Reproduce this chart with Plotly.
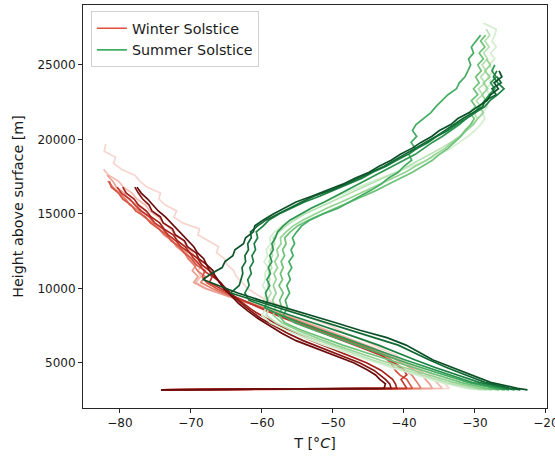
import plotly.graph_objects as go

# ---------------- data ----------------
WINTER_H = [3200, 3300, 3600, 3900, 4200, 4500, 5000, 5500, 6000, 6500, 7000, 7500,
            8000, 8500, 9000, 9500, 10000, 10400, 10800, 11200, 11600, 12000, 12400,
            12800, 13200, 13600, 14000, 14400, 14800, 15200, 15600, 16000, 16400,
            16800, 17200, 17600, 18000, 18400, 18800, 19200, 19700]

W1 = [-74.2, -33.6, -34.2, -35.0, -36.1, -37.2, -39.6, -41.0, -43.4, -45.6, -48.2, -50.3,
      -53.1, -55.6, -58.2, -60.4, -62.0, -62.8, -63.6, -64.0, -64.9, -65.3, -66.4,
      -66.1, -67.6, -69.0, -68.8, -71.2, -72.4, -72.0, -73.6, -74.5, -74.3,
      -76.2, -77.2, -77.9, -79.8, -80.9, -80.6, -82.2, -82.0]
W2 = [-74.2, -34.6, -35.2, -35.8, -36.8, -37.8, -39.8, -41.8, -44.2, -46.8, -49.6, -52.4,
      -55.2, -58.2, -61.4, -64.8, -67.8, -69.3, -68.6, -69.0, -68.4, -69.2, -69.8,
      -70.6, -71.0, -72.3, -72.8, -73.9, -74.6, -75.8, -76.4, -77.6, -78.3,
      -79.5, -80.2, -81.6, -82.3]
W3 = [-74.2, -36.0, -36.4, -37.0, -37.5, -38.4, -40.2, -42.2, -44.6, -47.2, -50.0, -52.8,
      -55.6, -58.6, -61.8, -64.9, -68.0, -69.6, -69.0, -69.8, -69.2, -70.1, -70.6,
      -71.6, -72.2, -73.4, -74.0, -75.2, -75.9, -77.0, -77.6, -78.8, -79.4,
      -80.5, -81.0, -81.8]
W4 = [-74.2, -37.6, -38.0, -38.4, -38.9, -39.8, -41.2, -42.6, -45.0, -47.6, -50.4, -53.2,
      -56.0, -58.8, -61.8, -64.6, -67.0, -68.6, -68.0, -69.1, -69.6, -70.4, -70.9,
      -72.0, -72.6, -73.8, -74.5, -75.4, -76.6, -77.3, -78.6, -79.2, -80.1,
      -81.0, -81.7]
W5 = [-74.2, -38.8, -39.2, -39.6, -40.6, -41.2, -41.8, -43.0, -45.4, -48.1, -50.9, -53.7,
      -56.4, -59.0, -61.6, -64.2, -66.4, -67.8, -68.4, -68.0, -69.3, -69.9, -71.0,
      -71.6, -72.8, -73.4, -74.6, -75.7, -76.4, -77.8, -78.4, -79.6, -80.2,
      -81.2, -81.5]
W6 = [-74.2, -39.6, -40.0, -40.4, -39.6, -40.0, -41.4, -43.2, -45.8, -48.6, -51.4, -54.2,
      -56.9, -59.4, -61.8, -64.0, -65.8, -67.4, -67.0, -68.2, -68.8, -69.6, -70.2,
      -71.4, -72.1, -73.2, -73.9, -75.1, -75.8, -77.0, -77.9, -78.6, -79.8,
      -80.4]
W7 = [-74.2, -41.0, -41.2, -41.6, -42.4, -43.2, -45.2, -47.8, -50.4, -53.0, -55.3, -57.5,
      -59.4, -61.2, -62.6, -64.0, -65.1, -65.8, -66.9, -67.4, -68.5, -69.0, -70.2,
      -70.8, -71.9, -72.5, -73.8, -74.4, -75.6, -76.3, -77.4, -78.0, -79.1,
      -79.6]
W8 = [-74.2, -41.8, -42.0, -42.6, -43.4, -44.2, -46.2, -48.8, -51.6, -54.2, -56.4, -58.4,
      -60.2, -61.6, -62.9, -64.0, -65.2, -66.0, -66.5, -67.4, -67.8, -68.9, -69.3,
      -70.5, -70.9, -72.2, -72.6, -73.9, -74.3, -75.5, -75.9, -76.8, -77.4,
      -77.9]
W9 = [-74.2, -42.8, -42.6, -43.4, -44.0, -45.0, -47.0, -49.8, -52.6, -55.2, -57.2, -59.0,
      -60.6, -62.0, -63.3, -64.3, -65.4, -65.9, -66.6, -66.9, -67.8, -68.2, -69.1,
      -69.6, -70.4, -71.2, -72.0, -72.9, -73.6, -74.6, -75.3, -76.1, -77.0,
      -77.6]

SUMMER_H = [3200, 3300, 3700, 4200, 4700, 5200, 5700, 6200, 6700, 7200, 7700, 8200,
            8700, 9200, 9700, 10200, 10600, 11000, 11400, 11800, 12200, 12600, 13000,
            13400, 13800, 14200, 14600, 15000, 15400, 15800, 16200, 16600, 17000,
            17400, 17800, 18200, 18600, 19000, 19400, 19800, 20200, 20600, 21000,
            21400, 21800, 22200, 22600, 23000, 23400, 23800, 24200, 24600, 25000,
            25400, 25800, 26200, 26600, 27000, 27400, 27800]

S1 = [-29.0, -31.2, -34.8, -38.4, -41.8, -45.0, -48.2, -51.2, -54.0, -56.6, -58.8, -60.0,
      -59.4, -59.8, -59.3, -59.9, -59.5, -59.6, -59.1, -59.7, -59.2, -59.4, -58.8,
      -58.9, -58.2, -57.2, -56.0, -54.6, -53.0, -51.2, -49.4, -47.4, -45.4,
      -43.2, -41.0, -38.8, -36.8, -35.0, -33.4, -32.2, -31.0, -30.0, -29.2,
      -28.6, -29.0, -28.2, -28.8, -27.9, -28.5, -27.6, -28.2, -27.4, -28.0,
      -27.2, -27.8, -27.0, -27.6, -27.2, -27.0, -28.8]
S2 = [-28.4, -30.4, -34.0, -37.6, -41.0, -44.4, -47.4, -50.4, -53.2, -55.8, -58.0, -59.4,
      -59.0, -59.3, -58.7, -59.2, -58.9, -59.1, -58.6, -59.0, -58.5, -58.8, -58.2,
      -58.4, -57.6, -56.6, -55.4, -54.0, -52.2, -50.4, -48.6, -46.6, -44.8,
      -43.0, -41.0, -39.4, -37.8, -36.2, -34.8, -33.4, -32.2, -31.2, -30.4,
      -29.6, -30.2, -29.2, -29.8, -28.9, -29.5, -28.6, -29.2, -28.4, -29.0,
      -28.2, -28.8, -28.0, -28.6, -27.9, -28.4]
S3 = [-27.6, -29.4, -33.0, -36.6, -40.0, -43.4, -46.6, -49.6, -52.4, -55.0, -57.2, -58.4,
      -58.1, -58.5, -58.0, -58.4, -58.0, -58.3, -57.8, -58.2, -57.7, -57.9, -57.3,
      -57.4, -56.6, -55.6, -54.2, -52.6, -50.8, -48.8, -47.0, -45.0, -43.2,
      -41.6, -39.8, -38.4, -36.8, -35.6, -34.2, -33.2, -32.0, -31.2, -30.2,
      -29.6, -28.8, -29.4, -28.4, -29.0, -28.2, -28.8, -27.9, -28.6, -27.8,
      -28.4]
S4 = [-26.6, -28.4, -32.0, -35.4, -38.8, -42.2, -45.4, -48.6, -51.6, -54.4, -56.8, -57.6,
      -57.2, -57.5, -57.0, -57.6, -57.1, -57.4, -57.0, -57.3, -56.8, -57.1, -56.6,
      -56.8, -56.0, -55.0, -53.4, -51.6, -49.6, -47.6, -45.6, -43.8, -42.2,
      -40.4, -38.8, -37.4, -36.0, -35.0, -33.8, -32.9, -32.0, -31.4, -30.6,
      -30.1, -30.8, -29.9, -30.5, -29.6, -30.2, -29.4, -29.9, -29.1, -29.6,
      -28.8, -29.4, -28.6, -29.2, -28.5]
S5 = [-25.8, -27.2, -31.0, -34.4, -37.6, -40.8, -43.8, -46.8, -49.8, -52.6, -55.4, -57.0,
      -56.4, -56.7, -56.1, -56.5, -56.0, -56.3, -55.8, -56.2, -55.6, -55.9, -55.4,
      -55.7, -55.1, -54.4, -53.2, -51.4, -49.2, -47.6, -46.0, -44.6, -43.2,
      -42.2, -40.8, -40.0, -38.9, -39.3, -38.4, -39.0, -38.2, -38.8, -38.3,
      -37.2, -36.2, -35.5, -34.6, -33.8, -32.6, -32.2, -31.4, -31.0, -30.6,
      -30.9, -30.2, -30.5, -29.8, -29.2]
S6 = [-25.2, -26.4, -30.4, -33.6, -36.8, -39.8, -42.8, -45.6, -48.6, -51.6, -54.6, -57.4,
      -59.6, -59.2, -59.5, -58.9, -59.3, -58.8, -59.1, -58.6, -58.9, -58.4, -58.6,
      -58.1, -57.8, -57.0, -56.0, -54.6, -53.0, -51.2, -49.6, -47.8, -46.2,
      -44.6, -43.0, -41.4, -39.8, -38.4, -37.2, -36.0, -34.6, -33.4, -32.2,
      -31.2, -30.0, -29.4, -28.6, -28.0, -27.2, -27.8, -27.0, -27.6, -27.2]
S7 = [-24.4, -25.6, -29.4, -32.6, -35.6, -38.4, -41.0, -43.6, -46.6, -49.6, -52.8, -56.0,
      -59.0, -61.8, -62.4, -61.8, -62.0, -61.5, -61.7, -61.2, -61.4, -60.9, -61.1,
      -60.6, -60.8, -59.8, -59.0, -57.6, -55.8, -54.0, -51.8, -49.8, -48.0,
      -45.9, -44.4, -42.5, -41.0, -39.4, -38.1, -36.6, -35.4, -33.8, -32.6,
      -31.2, -30.0, -28.6, -27.9, -26.8, -25.9, -26.8, -27.4, -26.9]
S8 = [-23.6, -25.0, -28.6, -31.4, -34.0, -36.4, -38.6, -40.8, -44.2, -47.6, -51.0, -54.4,
      -57.8, -61.2, -64.4, -63.2, -63.0, -62.7, -62.8, -62.3, -62.4, -61.9, -62.0,
      -61.5, -61.6, -60.6, -59.4, -57.8, -56.2, -54.4, -52.6, -50.2, -48.2,
      -46.3, -44.6, -42.8, -41.3, -39.8, -38.3, -37.0, -35.5, -34.2, -33.0,
      -31.7, -30.3, -28.9, -28.6, -27.0, -27.6, -26.3, -26.9]
S9 = [-22.6, -24.0, -27.8, -30.6, -33.4, -35.9, -37.8, -39.7, -42.4, -46.2, -49.6, -53.2,
      -56.7, -60.2, -63.4, -66.2, -68.3, -67.1, -65.6, -65.2, -64.1, -63.8, -62.6,
      -62.3, -61.2, -61.0, -59.8, -58.4, -56.8, -55.2, -52.9, -50.8, -48.6,
      -46.9, -44.9, -43.5, -41.8, -40.5, -38.9, -37.6, -36.1, -35.0, -33.4,
      -32.4, -30.8, -29.6, -28.3, -27.8, -26.7, -27.3, -26.2, -26.6]

WINTER_SERIES = [W1, W2, W3, W4, W5, W6, W7, W8, W9]
SUMMER_SERIES = [S1, S2, S3, S4, S5, S6, S7, S8, S9]

LEGEND_LABELS = ["Winter Solstice", "Summer Solstice"]
X_TICKS = [-80, -70, -60, -50, -40, -30, -20]
Y_TICKS = [5000, 10000, 15000, 20000, 25000]
Y_TICK_TEXT = ["5000", "10000", "15000", "20000", "25000"]

# ---------------- styles ----------------
WINTER_COLORS = ["#f6d6ce", "#f2bdb1", "#eca092", "#e27d6b", "#d65543",
                 "#c2372c", "#a5221c", "#871613", "#6b0c0c"]
SUMMER_COLORS = ["#d4eed0", "#b6e1b2", "#96d394", "#6fc27a", "#45ad63",
                 "#2e9751", "#1c8042", "#116a34", "#0d5129"]
LEGEND_COLORS = ["#e0503c", "#3fae63"]

FONT = "DejaVu Sans, Verdana, sans-serif"
LW = 1.7

fig = go.Figure()

# legend-only entries
for label, col in zip(LEGEND_LABELS, LEGEND_COLORS):
    fig.add_trace(go.Scatter(x=[None], y=[None], mode="lines", name=label,
                             line=dict(color=col, width=LW), showlegend=True))

for T, col in zip(WINTER_SERIES, WINTER_COLORS):
    fig.add_trace(go.Scatter(x=T, y=WINTER_H[:len(T)], mode="lines",
                             line=dict(color=col, width=LW),
                             showlegend=False, hoverinfo="skip"))

for T, col in zip(SUMMER_SERIES, SUMMER_COLORS):
    fig.add_trace(go.Scatter(x=T, y=SUMMER_H[:len(T)], mode="lines",
                             line=dict(color=col, width=LW),
                             showlegend=False, hoverinfo="skip"))

axis_common = dict(showgrid=False, zeroline=False, showline=True, mirror=True,
                   linecolor="#262626", linewidth=1, ticks="outside", ticklen=4,
                   tickwidth=1, tickcolor="#262626", ticklabeloverflow="allow",
                   automargin=False,
                   tickfont=dict(family=FONT, size=12, color="#1a1a1a"))

fig.update_layout(
    width=555, height=459,
    margin=dict(l=83, r=8, t=5, b=51),
    paper_bgcolor="white", plot_bgcolor="white",
    font=dict(family=FONT, color="#1a1a1a"),
    xaxis=dict(range=[-85.2, -19.85], tickvals=X_TICKS,
               title=dict(text="T [°<i>C</i>]", font=dict(family=FONT, size=14.3),
                          standoff=8),
               **axis_common),
    yaxis=dict(range=[1980, 29020], tickvals=Y_TICKS, ticktext=Y_TICK_TEXT,
               title=dict(text="Height above surface [m]",
                          font=dict(family=FONT, size=14.3), standoff=10),
               **axis_common),
    legend=dict(x=0.017, y=0.984, xanchor="left", yanchor="top",
                bgcolor="rgba(255,255,255,0.85)", bordercolor="#d0d0d0",
                borderwidth=1, font=dict(family=FONT, size=14.3, color="#1a1a1a"),
                itemwidth=30, tracegroupgap=0),
)

fig.write_html("out.html")
